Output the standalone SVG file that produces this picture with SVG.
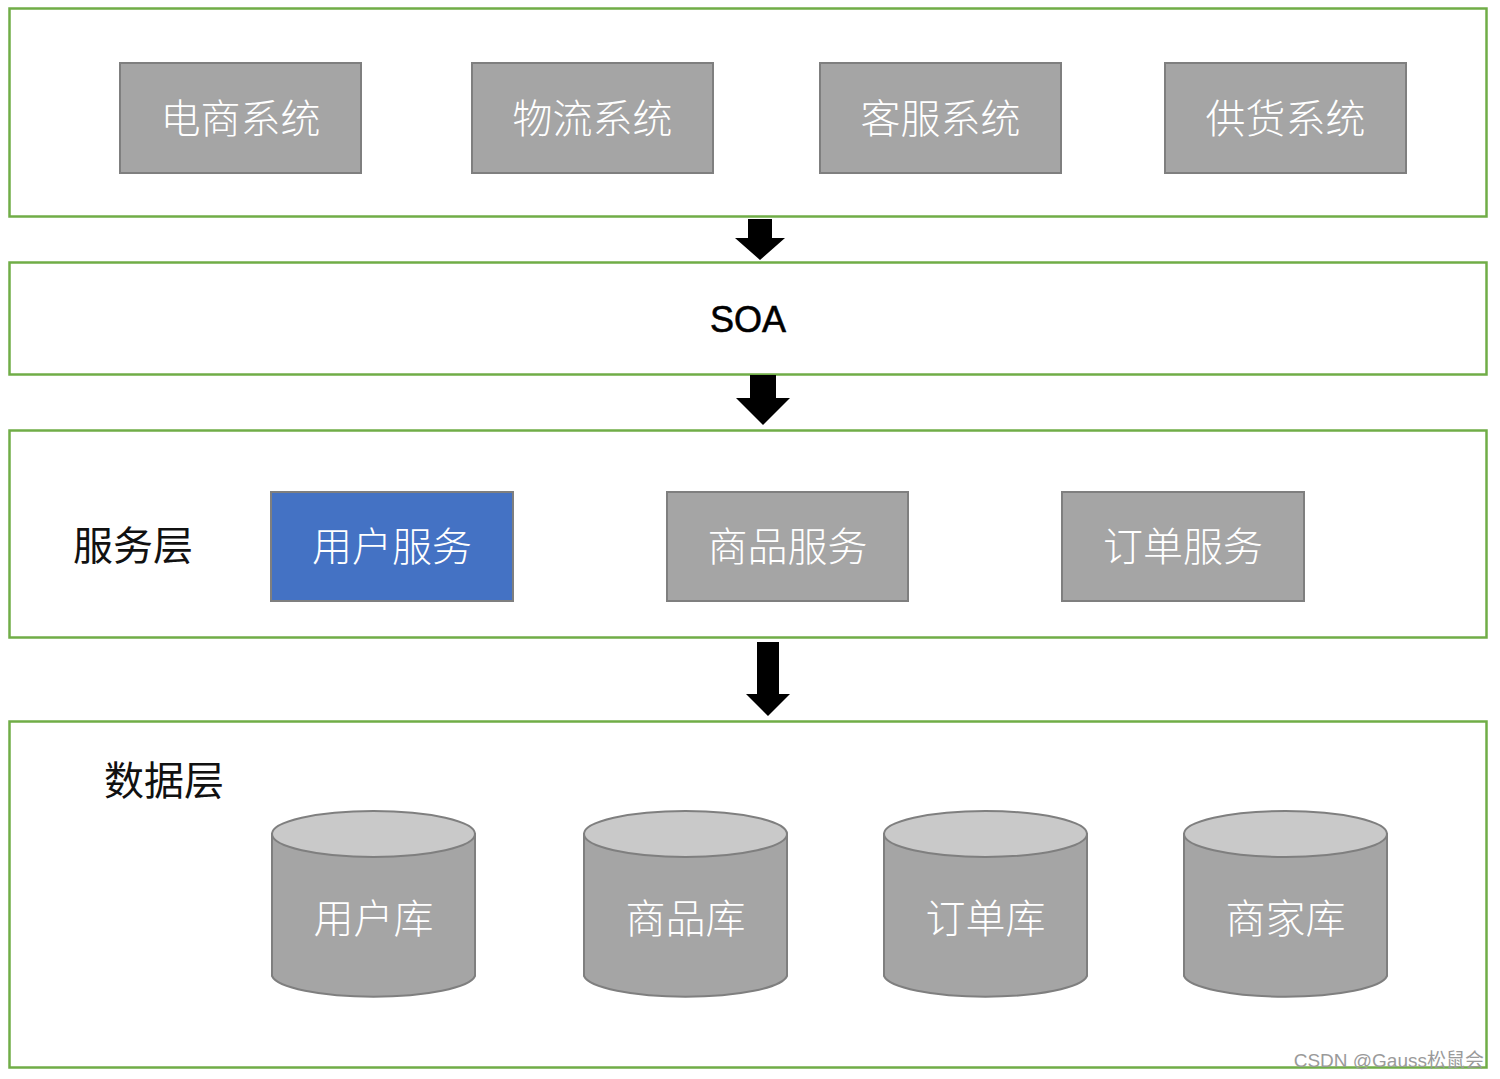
<svg xmlns="http://www.w3.org/2000/svg" width="1500" height="1079" viewBox="0 0 1500 1079">
<style>
.frame{fill:#ffffff;stroke:#70AD47;stroke-width:2.5}
.box{fill:#A5A5A5;stroke:#7F7F7F;stroke-width:2}
.blue{fill:#4472C4;stroke:#7F7F7F;stroke-width:2}
.cyl{fill:#A5A5A5;stroke:#7F7F7F;stroke-width:2}
.cyltop{fill:#C9C9C9;stroke:#7F7F7F;stroke-width:2}
.wt{font-family:"Noto Sans CJK SC","Liberation Sans",sans-serif;font-size:40px;font-weight:300;fill:#FFFFFF;text-anchor:middle}
.bt{font-family:"Noto Sans CJK SC","Liberation Sans",sans-serif;font-size:40px;fill:#111111}
.arrow{fill:#000000}
</style>
<rect width="1500" height="1079" fill="#ffffff"/>
<g id="layer-top">
<rect class="frame" x="9.5" y="8.5" width="1477" height="208"/>
</g>
<g id="node-dianshang"><rect class="box" x="120" y="63" width="241" height="110"/><text class="wt" x="240.5" y="133">电商系统</text></g>
<g id="node-wuliu"><rect class="box" x="472" y="63" width="241" height="110"/><text class="wt" x="592.5" y="133">物流系统</text></g>
<g id="node-kefu"><rect class="box" x="820" y="63" width="241" height="110"/><text class="wt" x="940.5" y="133">客服系统</text></g>
<g id="node-gonghuo"><rect class="box" x="1165" y="63" width="241" height="110"/><text class="wt" x="1285.5" y="133">供货系统</text></g>
<g id="layer-soa">
<rect class="frame" x="9.5" y="262.5" width="1477" height="112"/>
<text x="748" y="332" font-family="Liberation Sans, Arial, sans-serif" font-size="36" fill="#000000" stroke="#000000" stroke-width="0.6" text-anchor="middle">SOA</text>
</g>
<g id="layer-service">
<rect class="frame" x="9.5" y="430.5" width="1477" height="207"/>
<text class="bt" x="73" y="560">服务层</text>
</g>
<g id="node-user-svc"><rect class="blue" x="271" y="492" width="242" height="109"/><text class="wt" x="392" y="561">用户服务</text></g>
<g id="node-goods-svc"><rect class="box" x="667" y="492" width="241" height="109"/><text class="wt" x="787.5" y="561">商品服务</text></g>
<g id="node-order-svc"><rect class="box" x="1062" y="492" width="242" height="109"/><text class="wt" x="1183" y="561">订单服务</text></g>
<g id="layer-data">
<rect class="frame" x="9.5" y="721.5" width="1477" height="346"/>
<text class="bt" x="104" y="795">数据层</text>
</g>
<g id="db-user">
<path class="cyl" d="M272,834 A102,23 0 0 1 475,834 L475,976 A102,23 0 0 1 272,976 Z"/>
<ellipse class="cyltop" cx="373.5" cy="834" rx="101.5" ry="23"/>
<text class="wt" x="373.5" y="933">用户库</text>
</g>
<g id="db-goods">
<path class="cyl" d="M584,834 A102,23 0 0 1 787,834 L787,976 A102,23 0 0 1 584,976 Z"/>
<ellipse class="cyltop" cx="685.5" cy="834" rx="101.5" ry="23"/>
<text class="wt" x="685.5" y="933">商品库</text>
</g>
<g id="db-order">
<path class="cyl" d="M884,834 A102,23 0 0 1 1087,834 L1087,976 A102,23 0 0 1 884,976 Z"/>
<ellipse class="cyltop" cx="985.5" cy="834" rx="101.5" ry="23"/>
<text class="wt" x="985.5" y="933">订单库</text>
</g>
<g id="db-merchant">
<path class="cyl" d="M1184,834 A102,23 0 0 1 1387,834 L1387,976 A102,23 0 0 1 1184,976 Z"/>
<ellipse class="cyltop" cx="1285.5" cy="834" rx="101.5" ry="23"/>
<text class="wt" x="1285.5" y="933">商家库</text>
</g>
<g id="connectors">
<polygon class="arrow" points="748,219 772,219 772,238 785,238 760,260 735,238 748,238"/>
<polygon class="arrow" points="750,375 776,375 776,398 790,398 763,425 736,398 750,398"/>
<polygon class="arrow" points="757,642 779,642 779,694 790,694 768,716 746,694 757,694"/>
</g>
<text x="1484" y="1067" font-family="Liberation Sans, Arial, 'Noto Sans CJK SC', sans-serif" font-size="19" fill="#9a9a9a" text-anchor="end">CSDN @Gauss松鼠会</text>
</svg>
